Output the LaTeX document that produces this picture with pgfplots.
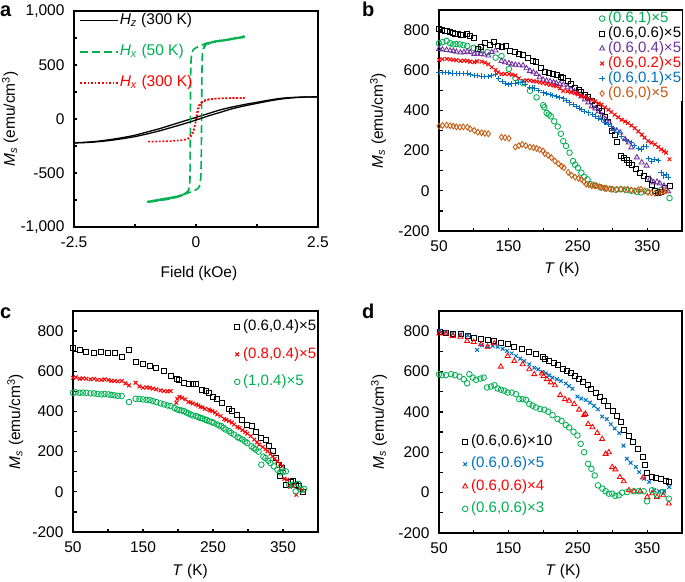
\documentclass[border=0pt]{standalone}
\usepackage{fontspec}
\setmainfont{Liberation Sans}
\usepackage{pgfplots}
\pgfplotsset{compat=1.18}
\definecolor{cgreen}{RGB}{0,176,80}
\definecolor{cred}{RGB}{255,0,0}
\definecolor{cblue}{RGB}{0,112,192}
\definecolor{cpurple}{RGB}{112,48,160}
\definecolor{cbrown}{RGB}{197,90,17}
\newcommand{\fs}{\fontsize{15.5}{16}\selectfont}
\newcommand{\lfs}{\fontsize{15}{15}\selectfont}
\pgfplotsset{
  panel/.style={
    scale only axis, width=243pt, height=221pt,
    axis line style={line width=1.6pt},
    tick align=inside, tick pos=left,
    major tick length=3.5pt,
    every tick/.style={black, line width=1.2pt},
    tick label style={font=\fs},
    xticklabel style={yshift=-6pt},
    yticklabel style={xshift=-6pt},
    label style={font=\fs},
    /pgf/number format/assume math mode=true,
    xtick={50,100,...,400}, xticklabels={50,,150,,250,,350,},
    ytick={-200,-100,...,900}, yticklabels={-200,,0,,200,,400,,600,,800,},
    xmin=50,xmax=400,ymin=-200,ymax=900,
    xlabel={\textit{T} (K)},
    ylabel={\textit{M}\textsubscript{\textit{s}} (emu/cm\textsuperscript{3})},
    legend cell align=left,
    legend style={draw=none, fill=none, inner sep=0pt, font=\lfs, nodes={inner sep=0.5pt, text height=10.5pt, text depth=3pt}},
    legend image code/.code={\path (0pt,0pt) (9pt,0pt);\draw[mark repeat=2,mark phase=2,##1] plot coordinates {(0pt,0pt)(4pt,0pt)(9pt,0pt)};},
  },
  mcirc/.style={only marks, mark=o, mark size=2.8pt, line width=0.85pt},
  msq/.style={only marks, mark=square, mark size=2.5pt, line width=0.85pt},
  mtri/.style={only marks, mark=triangle, mark size=2.9pt, line width=0.85pt},
  mx/.style={only marks, mark=x, mark size=2.6pt, line width=1pt},
  mplus/.style={only marks, mark=+, mark size=2.7pt, line width=1pt},
  mdia/.style={only marks, mark=diamond, mark size=2.9pt, line width=0.85pt},
}
\begin{document}
\begin{tikzpicture}
\path[use as bounding box] (0pt,0pt) rectangle (685pt,-581pt);
% ---------------- panel a ----------------
\begin{axis}[panel, at={(74pt,-11pt)}, anchor=north west, width=244pt, height=216pt,
  xmin=-2.5, xmax=2.5, ymin=-1000, ymax=1000,
  xtick={-2.5,-1.25,0,1.25,2.5}, xticklabels={-2.5,,0,,2.5},
  ytick={-1000,-750,...,1000}, yticklabels={{-1,000},,{-500},,0,,500,,{1,000}},
  xlabel={Field (kOe)},
  xlabel style={at={(axis description cs:0.512,-0.213)}, anchor=center},
  ylabel style={at={(axis description cs:-0.262,0.5)}, anchor=center},
  legend image code/.code={\draw[#1] (0pt,0pt) -- (38pt,0pt);},
  legend style={at={(0.0225,0.989)}, anchor=north west, row sep=16.5pt, font=\fs},
]
\addplot[black, line width=1.3pt, smooth] coordinates {
(2.5,205)(2.25,204)(2.0,200)(1.75,192)(1.5,175)(1.25,155)(1.0,135)(0.75,112)(0.5,85)(0.25,50)(0,15)(-0.25,-20)(-0.5,-55)(-0.75,-90)(-1.0,-120)(-1.25,-150)(-1.5,-172)(-1.75,-190)(-2.0,-205)(-2.25,-215)(-2.5,-220)
};
\addlegendentry{\textit{H}\textsubscript{\textit{z}} (300 K)}
\addplot[cgreen, line width=1.6pt, dash pattern=on 8pt off 4pt] coordinates {
(1.0,762)(0.8,745)(0.6,730)(0.4,720)(0.2,700)(0.1,680)(0.0,660)(-0.05,645)(-0.08,620)(-0.1,560)(-0.11,400)(-0.115,0)(-0.12,-400)(-0.125,-600)(-0.15,-660)(-0.2,-690)(-0.3,-712)(-0.4,-725)(-0.5,-735)(-0.6,-745)(-0.8,-758)(-1.0,-770)
(-0.8,-758)(-0.6,-745)(-0.4,-725)(-0.2,-690)(-0.1,-675)(0.0,-655)(0.05,-640)(0.08,-610)(0.1,-540)(0.11,-300)(0.115,0)(0.12,400)(0.13,600)(0.15,650)(0.2,700)(0.4,720)(0.6,730)(0.8,745)(1.0,762)
};
\addlegendentry{\textcolor{cgreen}{\textit{H}\textsubscript{\textit{x}} (50 K)}}
\addplot[cred, line width=1.6pt, dotted] coordinates {
(1.0,195)(0.8,194)(0.6,192)(0.4,188)(0.3,182)(0.2,172)(0.1,150)(0.05,120)(0.02,60)(0.0,0)(-0.02,-60)(-0.05,-120)(-0.1,-160)(-0.15,-180)(-0.2,-190)(-0.3,-198)(-0.5,-204)(-0.7,-207)(-1.0,-210)
(-0.7,-207)(-0.5,-204)(-0.3,-196)(-0.2,-188)(-0.15,-175)(-0.1,-150)(-0.05,-100)(0.0,-20)(0.03,40)(0.06,110)(0.1,145)(0.15,165)(0.2,178)(0.3,186)(0.5,192)(0.7,194)(1.0,195)
};
\addlegendentry{\textcolor{cred}{\textit{H}\textsubscript{\textit{x}} (300 K)}}
\addplot[black, line width=1.3pt, smooth, forget plot] coordinates {
(-2.5,-222)(-2.25,-218)(-2.0,-210)(-1.75,-198)(-1.5,-182)(-1.25,-163)(-1.0,-138)(-0.75,-110)(-0.5,-78)(-0.25,-45)(0,-10)(0.25,28)(0.5,62)(0.75,96)(1.0,122)(1.25,145)(1.5,167)(1.75,185)(2.0,197)(2.25,203)(2.5,205)
};
\addplot[cgreen, line width=1.8pt, forget plot] coordinates {
(0.15,650)(0.18,672)(0.2,690)(0.23,701)(0.25,696)(0.28,708)(0.3,704)(0.33,714)(0.35,709)(0.38,719)(0.4,714)(0.43,722)(0.45,717)(0.48,727)(0.5,721)(0.53,729)(0.55,724)(0.58,733)(0.6,727)(0.63,736)(0.65,731)(0.68,740)(0.7,735)(0.73,745)(0.75,739)(0.78,749)(0.8,743)(0.83,752)(0.85,747)(0.88,756)(0.9,750)(0.93,760)(0.95,754)(0.97,766)(1.0,760)
};
\addplot[cgreen, line width=1.8pt, forget plot] coordinates {
(-1.0,-770)(-0.97,-762)(-0.95,-768)(-0.92,-758)(-0.9,-764)(-0.87,-754)(-0.85,-760)(-0.82,-750)(-0.8,-756)(-0.77,-746)(-0.75,-752)(-0.72,-742)(-0.7,-748)(-0.67,-738)(-0.65,-744)(-0.62,-734)(-0.6,-740)(-0.57,-730)(-0.55,-736)(-0.52,-726)(-0.5,-732)(-0.47,-722)(-0.45,-727)(-0.42,-718)(-0.4,-722)(-0.37,-712)(-0.35,-716)(-0.32,-706)(-0.3,-709)(-0.27,-700)(-0.25,-698)(-0.22,-688)(-0.2,-684)(-0.17,-672)(-0.15,-660)
};
\end{axis}
% ---------------- panel b ----------------
\begin{axis}[panel, at={(439pt,-10pt)}, anchor=north west, width=243pt, height=221pt,
  xlabel style={at={(axis description cs:0.506,-0.176)}, anchor=center},
  ylabel style={at={(axis description cs:-0.251,0.5)}, anchor=center},
  legend style={at={(0.652,0.995)}, anchor=north west, row sep=0.5pt, fill=white},
]
\addplot[mcirc, cgreen] coordinates {
(50,734)(55,740)(61,746)(66,735)(70.6,729)(75,730)(80,729)(85,725)(90.7,721)(100,712)(110,700)(120,690)(131.5,663)(140,671)(150.7,607)(160,561)(171,536)(181,498)(190.5,465)(200,426)(201.6,416)(205,388)(208,380)(211,371)(216,346)(221,320)(225.5,284)(229,247)(233,223)(238,190)(243,148)(246,130)(250,115)(255,90)(259,70)(264,57)(269,33)(275,25)(283,17)(290,12)(298,8)(305,5)(312,8)(320,3)(327,0)(335,-5)(341,-8)(350,-3)(361,0)(370,5)(382,-36)
};
\addlegendentry{\textcolor{cgreen}{(0.6,1)×5}}
\addplot[msq, black] coordinates {
(50,805)(54,800)(58,797)(62,795)(66,789)(70,785)(73,782)(77,780)(81,775)(85,778)(90,779)(95,769)(100,762)(106,706)(111,718)(116,736)(123,726)(129,739)(135,721)(140,714)(146,723)(152,696)(159,690)(165,683)(171,677)(178,663)(185,647)(190,640)(197,614)(202,594)(208,586)(214,581)(220,575)(225,565)(229,561)(235,545)(240,530)(246,511)(251,500)(255,490)(260,478)(265,465)(270,448)(275,430)(280,412)(284,396)(289,370)(294,343)(299,300)(303,280)(306,241)(312,172)(316,165)(320,155)(324,140)(328,129)(333,110)(339,91)(345,75)(351,58)(356,30)(361,0)(365,-10)(370,-3)(375,15)(382,23)
};
\addlegendentry{(0.6,0.6)×5}
\addplot[mtri, cpurple] coordinates {
(50,706)(55,703)(61,701)(66,698)(70.6,696)(75,692)(81,688)(86,690)(90.8,693)(95,690)(100.9,681)(105,683)(110.4,681)(115,678)(121,673)(126,690)(131.5,698)(140,646)(145,640)(150.7,635)(155,630)(160,627)(165,625)(171,624)(176,610)(181,597)(186,590)(190.5,581)(195,565)(200,553)(205,548)(210,545)(215,540)(219,536)(224,532)(229,528)(235,515)(240,505)(245,495)(250,485)(255,470)(260,455)(265,440)(270,420)(275,410)(280,395)(285,375)(290,355)(295,340)(301,307)(306,300)(311,290)(318,257)(323,240)(327,216)(335,166)(342,141)(349,125)(354,60)(359,42)(364,45)(368,37)(374,25)(380,-3)
};
\addlegendentry{\textcolor{cpurple}{(0.6,0.4)×5}}
\addplot[mx, cred] coordinates {
(50,652)(55,655)(61,657)(66,654)(70.6,652)(75,650)(81,647)(86,648)(90.8,647)(95,643)(100.9,640)(105,645)(111.4,643)(116,638)(121,630)(126,615)(131.5,602)(135,590)(140,581)(145,582)(150.7,581)(155,578)(160,574)(165,560)(171,548)(176,550)(181,549)(186,546)(190.5,544)(195,540)(200,536)(205,532)(210,528)(215,524)(219,520)(224,510)(229,498)(235,495)(240,490)(246,487)(250,480)(255,472)(260,468)(265,462)(270,452)(275,445)(280,435)(284,429)(289,415)(294,404)(298,392)(303,379)(308,366)(313,354)(318,345)(322,337)(327,325)(332,312)(337,296)(342,280)(346,265)(351,248)(356,240)(361,231)(366,218)(370,206)(374,198)(377,190)(382,157)
};
\addlegendentry{\textcolor{cred}{(0.6,0.2)×5}}
\addplot[mplus, cblue] coordinates {
(50,591)(55,590)(59.6,589)(64,588)(69,586)(75,585)(80,584)(85,585)(90.8,586)(95,580)(100.9,574)(105,573)(111.4,571)(116,570)(122,569)(126,575)(131.5,581)(136,560)(141,544)(146,535)(150.7,528)(155,532)(160,536)(165,540)(169.7,541)(175,528)(181,515)(185,512)(188,511)(194,498)(200,487)(205,483)(210,478)(214,474)(219,470)(224,464)(229,458)(233,450)(238,438)(243,430)(247.6,421)(252,412)(255,405)(259.5,396)(265,388)(271,379)(276,372)(280,362)(284,354)(289,342)(293.6,330)(298,318)(303,305)(308,290)(313,272)(318,255)(322,245)(327,239)(332,225)(337,212)(341.6,206)(345,220)(348.7,222)(352,160)(356,148)(361,157)(366,150)(370,90)(373,74)(377,80)(380,66)
};
\addlegendentry{\textcolor{cblue}{(0.6,0.1)×5}}
\addplot[mdia, cbrown] coordinates {
(50,322)(55,325)(61,327)(66,324)(70.6,322)(75,318)(80,317)(85,318)(90.8,317)(95,308)(100.9,300)(106,292)(111.4,289)(116,286)(121,284)(140,267)(145,265)(150.7,261)(160,218)(165,225)(169.7,231)(175,225)(181,218)(186,215)(190.5,211)(195,205)(200,198)(202.5,185)(207,177)(212,165)(217,148)(222,135)(226.6,122)(230,115)(236,92)(241,78)(246,68)(251,62)(255,58)(259,45)(262,33)(266,30)(270,25)(274,28)(277,25)(281,20)(284,17)(288,14)(291,12)(296,10)(300,8)(306,8)(312,8)(317,7)(322,8)(327,4)(332,0)(337,5)(341,8)(346,0)(351,-8)(356,-10)(361,-13)(366,-10)(370,-8)(374,-3)(377,0)
};
\addlegendentry{\textcolor{cbrown}{(0.6,0)×5}}
\end{axis}
% ---------------- panel c ----------------
\begin{axis}[panel, at={(73pt,-311pt)}, anchor=north west, width=245pt, height=221pt,
  xlabel style={at={(axis description cs:0.478,-0.18)}, anchor=center},
  ylabel style={at={(axis description cs:-0.235,0.5)}, anchor=center},
  legend style={at={(0.651,0.962)}, anchor=north west, row sep=13pt},
]
\addplot[msq, black] coordinates {
(50,718)(59.5,707)(69,698)(80,693)(90.5,698)(100.5,693)(109.5,690)(119.5,673)(130,707)(139.5,647)(150,635)(159.5,627)(169,618)(180,602)(189.5,577)(199,563)(201.4,557)(208.6,543)(216,535)(221.4,535)(226,535)(233.8,505)(239.5,502)(244.3,490)(250,473)(256,460)(263,443)(272.8,413)(277.6,402)(284.8,385)(292,360)(299,335)(305,327)(311,297)(318,268)(325,257)(330,227)(335.7,202)(340,170)(344,135)(346,77)(349,118)(354,35)(361,47)(364,55)(368,35)(373,30)(378,2)
};
\addlegendentry{(0.6,0.4)×5}
\addplot[mx, cred] coordinates {
(50,568)(54,570)(59.5,563)(64,565)(69,563)(75,560)(80,563)(85,558)(90.5,557)(95,560)(100.5,557)(105,552)(109.5,552)(114,550)(119.5,552)(125,540)(130,530)(139.5,543)(145,525)(150,518)(155,520)(159.5,518)(164,514)(169,510)(175,505)(180,502)(185,500)(189.5,502)(197.6,443)(199,463)(202,473)(206,468)(210.5,460)(215,447)(218,445)(221,440)(226,435)(229,430)(232,423)(235,420)(238.6,413)(244,410)(246,405)(249,402)(253,395)(256,385)(261,377)(266,363)(269,358)(273,352)(277,345)(280,335)(285,323)(288,318)(292,307)(296,298)(299,290)(304,277)(309,260)(313,247)(316,235)(321,223)(325,212)(328,202)(332,190)(335,177)(338,165)(342,152)(346,140)(349,127)(352,65)(356,60)(360,25)(364,30)(369,-15)(374,15)(378,5)
};
\addlegendentry{\textcolor{cred}{(0.8,0.4)×5}}
\addplot[mcirc, cgreen] coordinates {
(50,493)(54,495)(59.5,493)(64,494)(69,493)(75,490)(80,490)(85,487)(90.5,485)(95,487)(100.5,485)(105,482)(109.5,480)(114,478)(119.5,477)(130,447)(139.5,463)(145,462)(150,460)(155,458)(159.5,457)(164,452)(169,447)(175,440)(180,435)(185,430)(189.5,427)(195,417)(199,410)(202,407)(205,405)(208.6,402)(212,395)(215,390)(218,385)(221,380)(226,377)(229,372)(232,368)(235,365)(238.6,360)(241,357)(244,352)(248,348)(251,343)(256,335)(259,330)(262,327)(265,318)(268,310)(273,302)(276,293)(280,285)(285,273)(288,267)(292,260)(296,250)(299,243)(305,227)(308,218)(311,210)(315,200)(319,135)(322,175)(325,168)(329,155)(332,143)(337,127)(342,110)(346,97)(350,100)(354,102)(359,35)(364,35)(368,2)(372,40)(376,10)(380,15)
};
\addlegendentry{\textcolor{cgreen}{(1,0.4)×5}}
\end{axis}
% ---------------- panel d ----------------
\begin{axis}[panel, at={(439pt,-311pt)}, anchor=north west, width=243pt, height=222pt,
  xlabel style={at={(axis description cs:0.51,-0.174)}, anchor=center},
  ylabel style={at={(axis description cs:-0.247,0.5)}, anchor=center},
  legend style={at={(0.0885,0.444)}, anchor=north west, row sep=7.8pt},
]
\addplot[msq, black] coordinates {
(50.7,795)(60,789)(69.9,784)(80.9,784)(91.4,776)(101,767)(110.6,763)(120,759)(129.7,751)(139,743)(148.9,735)(158.5,723)(169,713)(180,697)(189.6,685)(199,674)(202.5,664)(208.7,652)(215,641)(220.7,631)(228,615)(234,603)(240,592)(245.6,579)(251.8,562)(258,549)(263.8,532)(269.5,516)(275.7,496)(282,476)(287.8,455)(293.5,430)(299.8,406)(306,378)(311.8,348)(316.6,312)(323.8,279)(330,250)(335.8,217)(343,176)(346,138)(350,98)(356,77)(362,72)(369,69)(376.5,56)(381,52)
};
\addlegendentry{(0.6,0.6)×10}
\addplot[mx, cblue] coordinates {
(50.7,800)(60,795)(69.9,789)(80.9,784)(91.4,779)(104.8,707)(111.5,730)(120,723)(127.3,727)(134.5,723)(141.7,713)(148,702)(154.6,690)(160.9,677)(167,664)(172.9,652)(180,636)(187.2,619)(193,611)(199,598)(204,591)(208.7,581)(213.5,570)(219.8,562)(225.5,553)(232.6,541)(237.4,528)(242.2,515)(249.4,476)(255,466)(261.3,459)(267.5,446)(273.3,430)(279,413)(285,377)(291.6,364)(297.4,339)(303,318)(309.5,295)(315.7,233)(320.5,168)(326,148)(333.6,127)(338.3,102)(345.5,69)(352.7,53)(360,12)(367,7)(374,7)(381.5,28)
};
\addlegendentry{\textcolor{cblue}{(0.6,0.6)×5}}
\addplot[mtri, cred] coordinates {
(50.7,789)(60,789)(69.9,776)(80.9,772)(90.5,751)(100,746)(110.6,735)(120,723)(129.7,740)(139,624)(148.9,677)(158.5,652)(170.5,636)(180,611)(187.2,587)(198,590)(200.6,578)(205.4,562)(211,546)(217,532)(224.6,483)(231.4,463)(237.5,455)(244.7,439)(251.8,411)(259,385)(261,390)(264.8,340)(271,324)(278,296)(285,266)(290,192)(294.6,200)(299.4,126)(304,115)(310.5,77)(316,56)(323.6,12)(330.7,7)(340,7)(344,75)(350,-21)(357,-3)(364,-21)(373,-13)(381,-54)
};
\addlegendentry{\textcolor{cred}{(0.6,0.6)×4}}
\addplot[mcirc, cgreen] coordinates {
(50,587)(54,582)(60,582)(67.5,587)(73.2,582)(79.5,575)(85.7,562)(90.5,542)(93.8,587)(98.6,570)(103.4,559)(109.6,565)(114.4,570)(119.2,521)(125,526)(129.7,532)(134.5,516)(139.3,510)(144,505)(148.9,496)(154.6,496)(160.9,488)(165.6,463)(170.5,463)(175.2,460)(180,439)(184.8,431)(189.6,422)(195.8,414)(201.6,411)(207.3,401)(213.5,384)(220.7,365)(226.5,356)(232.6,335)(237.4,323)(243.7,302)(249.4,283)(254,242)(259,200)(264.8,143)(269.5,118)(274.3,85)(279,36)(285.3,20)(290,7)(294.6,-5)(299.4,-5)(304,-16)(308.9,-13)(313.7,0)(320.9,3)(330.5,7)(337.7,7)(344.8,7)(349.6,-43)(356.8,12)(364,-13)(372.6,3)(381,-30)
};
\addlegendentry{\textcolor{cgreen}{(0.6,0.6)×3}}
\end{axis}
% panel letters
\node[anchor=base west, inner sep=0pt, font=\bfseries\fontsize{20}{20}\selectfont] at (0pt,-16pt) {a};
\node[anchor=base west, inner sep=0pt, font=\bfseries\fontsize{20}{20}\selectfont] at (362pt,-16pt) {b};
\node[anchor=base west, inner sep=0pt, font=\bfseries\fontsize{20}{20}\selectfont] at (0pt,-318pt) {c};
\node[anchor=base west, inner sep=0pt, font=\bfseries\fontsize{20}{20}\selectfont] at (362pt,-318pt) {d};
\end{tikzpicture}
\end{document}
